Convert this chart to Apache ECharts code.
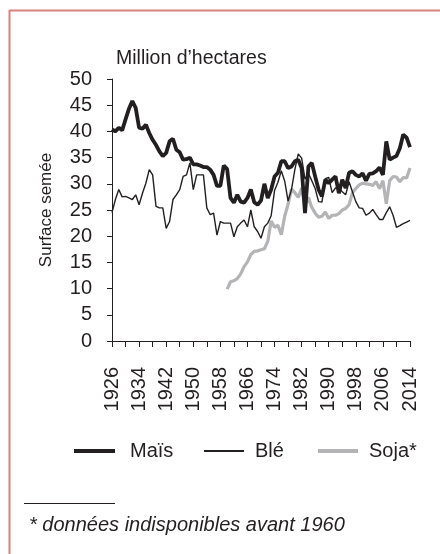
<!DOCTYPE html>
<html>
<head>
<meta charset="utf-8">
<script src="https://cdn.jsdelivr.net/npm/echarts@6/dist/echarts.min.js"></script>
<style>
html,body{margin:0;padding:0;background:#fff;}
#chart{width:440px;height:554px;}
</style>
</head>
<body>
<div id="chart"></div>
<script>
const years = [];
for (let y = 1926; y <= 2014; y++) years.push(String(y));

const mais = [
40.4,40.0,40.7,40.2,42.3,44.3,45.8,44.5,40.7,40.5,
41.3,39.7,38.4,37.4,36.2,35.3,35.9,38.1,38.6,36.5,
36.0,34.6,34.7,35.0,33.7,33.7,33.5,33.2,33.2,32.7,
31.7,29.6,29.6,33.5,32.8,27.3,26.4,27.9,26.6,26.4,
27.3,28.9,26.5,26.0,26.8,30.0,27.3,28.9,31.4,32.1,
34.3,34.3,33.0,33.3,34.3,34.6,33.0,24.4,33.3,34.0,
31.4,28.9,27.6,30.8,30.1,30.8,31.4,28.2,30.8,29.2,
32.1,32.4,31.7,31.4,32.0,30.6,31.9,32.0,32.4,33.1,
31.7,38.1,34.6,35.0,35.3,36.8,39.4,38.8,37.0
];

const ble = [
24.5,27.0,28.9,27.5,27.6,27.3,27.0,27.9,26.0,28.2,
30.1,32.7,31.7,25.7,25.4,25.4,21.5,22.8,27.0,27.9,
28.9,31.4,31.7,34.0,28.9,31.7,31.7,31.7,25.4,24.1,
24.4,20.2,22.8,22.5,22.5,22.5,19.9,21.8,22.5,23.1,
21.8,25.0,21.8,20.9,19.6,21.8,22.5,23.9,28.7,30.3,
32.5,30.5,26.7,28.9,32.7,35.7,34.9,30.9,32.0,30.6,
29.1,26.6,26.5,31.0,31.2,28.3,29.2,29.2,28.5,27.9,
30.4,28.5,26.6,25.4,25.3,24.0,24.4,25.1,24.1,23.2,
23.2,24.5,25.6,24.0,21.7,22.0,22.4,22.7,23.0
];

// Soja: données à partir de 1960 (null avant)
const sojaStart = 1960;
const sojaValues = [
9.9,11.3,11.5,11.9,12.8,14.2,15.1,16.5,17.1,17.2,
17.4,17.6,19.0,22.9,21.7,22.1,20.3,23.8,26.1,29.0,
28.3,27.4,29.2,25.8,27.4,25.5,24.4,23.6,23.8,24.6,
23.4,24.0,24.0,24.3,25.0,25.3,26.0,28.3,29.1,29.8,
30.1,30.0,29.9,29.7,30.4,29.1,30.6,26.2,30.6,31.4,
31.3,30.4,31.2,31.1,33.0
];
const soja = years.map(y => {
  const i = Number(y) - sojaStart;
  return i >= 0 ? sojaValues[i] : null;
});

const seriesNames = ['Maïs', 'Blé', 'Soja*'];
const yTitle = 'Surface semée';
const unitTitle = 'Million d\u2019hectares';
const footnote = '* données indisponibles avant 1960';

const FONT = '"Liberation Sans", Arial, Helvetica, sans-serif';
const INK = '#231f20';
const GREY = '#b4b4b6';

const chart = echarts.init(document.getElementById('chart'), null, {renderer: 'canvas'});

chart.setOption({
  animation: false,
  backgroundColor: '#fff',
  textStyle: {fontFamily: FONT, color: INK},
  title: [
    {text: unitTitle, left: 111, top: 44,
     textStyle: {fontFamily: FONT, fontSize: 19.5, fontWeight: 'normal', color: INK}},
    {text: footnote, left: 24, top: 510,
     textStyle: {fontFamily: FONT, fontSize: 20, fontStyle: 'italic', fontWeight: 'normal', color: INK}}
  ],
  graphic: [
    {type: 'line', shape: {x1: 9.5, y1: 10, x2: 9.5, y2: 554}, style: {stroke: '#d98282', lineWidth: 2}},
    {type: 'line', shape: {x1: 9, y1: 10.5, x2: 440, y2: 10.5}, style: {stroke: '#d98282', lineWidth: 2}},
    {type: 'line', shape: {x1: 24, y1: 503.5, x2: 115, y2: 503.5}, style: {stroke: INK, lineWidth: 1}}
  ],
  legend: [
    {data: [seriesNames[0]], left: 69, top: 436, itemWidth: 41, itemHeight: 4, icon: 'rect',
     textStyle: {fontFamily: FONT, fontSize: 20, color: INK, padding: [0, 0, 8, 10]}},
    {data: [seriesNames[1]], left: 199, top: 436, itemWidth: 40, itemHeight: 2, icon: 'rect',
     textStyle: {fontFamily: FONT, fontSize: 20, color: INK, padding: [0, 0, 8, 6]}},
    {data: [seriesNames[2]], left: 313, top: 436, itemWidth: 40, itemHeight: 4, icon: 'rect',
     textStyle: {fontFamily: FONT, fontSize: 20, color: INK, padding: [0, 0, 8, 6]}}
  ],
  grid: {left: 112, right: 30, top: 79, bottom: 213, containLabel: false},
  xAxis: {
    type: 'category',
    data: years,
    boundaryGap: false,
    axisLine: {lineStyle: {color: INK, width: 1}},
    axisTick: {show: true, interval: 3, length: 6, lineStyle: {color: INK, width: 1}},
    axisLabel: {interval: 7, rotate: 90, fontSize: 20, margin: 26, color: INK, fontFamily: FONT},
    splitLine: {show: false}
  },
  yAxis: {
    type: 'value',
    min: 0, max: 50, interval: 5,
    name: yTitle,
    nameLocation: 'middle',
    nameGap: 57,
    nameTextStyle: {fontFamily: FONT, fontSize: 17, color: INK},
    axisLine: {show: true, lineStyle: {color: INK, width: 1}},
    axisTick: {show: true, length: 5, lineStyle: {color: INK, width: 1}},
    axisLabel: {fontSize: 20, margin: 20, color: INK, fontFamily: FONT},
    splitLine: {show: false}
  },
  series: [
    {name: seriesNames[2], type: 'line', data: soja, showSymbol: false, symbol: 'none',
     connectNulls: false, color: GREY, lineStyle: {color: GREY, width: 3.2}, z: 2},
    {name: seriesNames[1], type: 'line', data: ble, showSymbol: false, symbol: 'none',
     color: INK, lineStyle: {color: INK, width: 1.4}, z: 3},
    {name: seriesNames[0], type: 'line', data: mais, showSymbol: false, symbol: 'none',
     color: INK, lineStyle: {color: INK, width: 3.8}, z: 4}
  ]
});
</script>
</body>
</html>
